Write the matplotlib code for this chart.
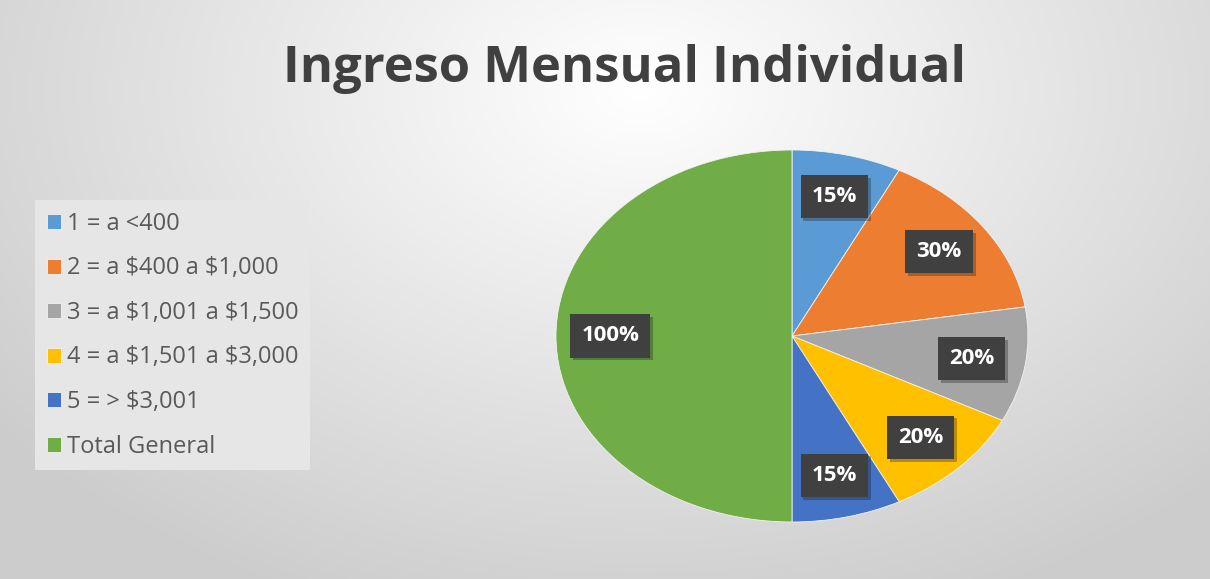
import matplotlib.pyplot as plt
import matplotlib.patheffects as pe
import numpy as np

# datos
categorias = ["1 = a <400", r"2 = a \$400 a \$1,000", r"3 = a \$1,001 a \$1,500",
              r"4 = a \$1,501 a \$3,000", r"5 = > \$3,001", "Total General"]
porcentajes = [15, 30, 20, 20, 15, 100]
colores = ["#5B9BD5", "#ED7D31", "#A5A5A5", "#FFC000", "#4472C4", "#70AD47"]
titulo = "Ingreso Mensual Individual"

plt.rcParams['font.family'] = ['Open Sans', 'DejaVu Sans']

fig = plt.figure(figsize=(12.1, 5.79), dpi=100)

# fondo con degradado radial
bg = fig.add_axes([0, 0, 1, 1])
yy, xx = np.mgrid[0:579, 0:1210]
d = np.sqrt(((xx - 640) / 820.0) ** 2 + ((yy - 90) / 560.0) ** 2)
d = np.clip(d, 0, 1)
shade = 1.0 - 0.20 * d
bg.imshow(np.dstack([shade, shade, shade]), extent=[0, 1, 0, 1], aspect='auto', zorder=0)
bg.axis('off')

fig.text(0.516, 0.88, titulo, ha='center', va='center', fontsize=36.5,
         fontweight='bold', color='#404040')

ax = fig.add_axes([556 / 1210, 57 / 579, 472 / 1210, 372 / 579])
wedges, textos = ax.pie(porcentajes, colors=colores, startangle=90, counterclock=False,
                        labels=[f"{p}%" for p in porcentajes], labeldistance=0.77,
                        wedgeprops=dict(linewidth=0.6, edgecolor='#f2f2f2'))
for t in textos:
    t.set_ha('center')
    t.set_va('center')
    t.set_color('white')
    t.set_fontweight('bold')
    t.set_fontsize(16)
    t.set_bbox(dict(boxstyle='square,pad=0.5', facecolor='#404040', edgecolor='none'))
    t.get_bbox_patch().set_path_effects([pe.SimplePatchShadow(offset=(2, -2), alpha=0.3), pe.Normal()])
ax.set_aspect('auto')
ax.set_xlim(-1, 1)
ax.set_ylim(-1, 1)

leg = fig.legend(wedges, categorias, loc='upper left', bbox_to_anchor=(35 / 1210, 1 - 200 / 579),
                 borderaxespad=0, frameon=True, fontsize=17, handlelength=0.6, handleheight=0.6,
                 handletextpad=0.25, labelspacing=0.87, borderpad=0.5, labelcolor='#595959')
leg.get_frame().set_facecolor('#e6e6e6')
leg.get_frame().set_edgecolor('none')
leg.get_frame().set_alpha(1)
leg.get_frame().set_boxstyle('square', pad=0)

fig.savefig('out.png', dpi=100)
